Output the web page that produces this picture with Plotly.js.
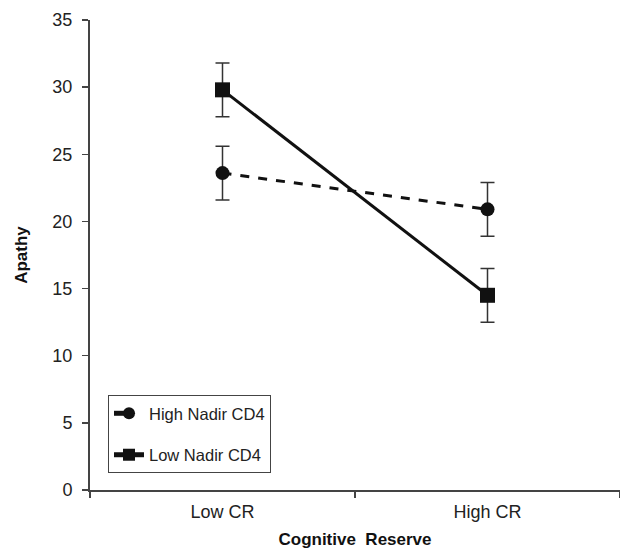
<!DOCTYPE html>
<html>
<head>
<meta charset="utf-8">
<script src="https://cdn.plot.ly/plotly-3.0.1.min.js"></script>
<style>html,body{margin:0;padding:0;background:#fff;}#chart{width:620px;height:553px;}</style>
</head>
<body>
<div id="chart"></div>
<script>
var categories = ["Low CR", "High CR"];
var highNadirValues = [23.6, 20.9];
var highNadirErrors = [2.0, 2.0];
var lowNadirValues = [29.8, 14.5];
var lowNadirErrors = [2.0, 2.0];
var yTickVals = [0, 5, 10, 15, 20, 25, 30, 35];

var traces = [
  {
    x: categories, y: highNadirValues, name: "High Nadir CD4",
    type: "scatter", mode: "lines+markers", legendgroup: "a",
    line: {color: "#111", width: 3, dash: "dash"},
    marker: {symbol: "circle", size: 14, color: "#111"},
    error_y: {type: "data", array: highNadirErrors, visible: true, color: "#333", thickness: 1.5, width: 7}
  },
  {
    x: categories, y: lowNadirValues, name: "Low Nadir CD4",
    type: "scatter", mode: "lines+markers", legendgroup: "b",
    line: {color: "#111", width: 3},
    marker: {symbol: "square", size: 15, color: "#111"},
    error_y: {type: "data", array: lowNadirErrors, visible: true, color: "#333", thickness: 1.5, width: 7}
  }
];

var layout = {
  width: 620, height: 553,
  margin: {l: 90, r: 0, t: 20, b: 63},
  paper_bgcolor: "#fff", plot_bgcolor: "#fff",
  font: {family: "Liberation Sans, Arial, sans-serif", color: "#222", size: 18},
  showlegend: true,
  legend: {
    x: 0.034, y: 0.202, xanchor: "left", yanchor: "top",
    bordercolor: "#444", borderwidth: 1, bgcolor: "#fff",
    font: {size: 16.5, color: "#222"},
    tracegroupgap: 17, itemwidth: 30, itemsizing: "constant"
  },
  xaxis: {
    type: "category", range: [-0.5, 1.5],
    showline: true, linecolor: "#444", linewidth: 2,
    ticks: "outside", tickson: "boundaries", ticklen: 6, tickcolor: "#444", tickwidth: 1.5,
    showgrid: false, zeroline: false, ticklabelstandoff: 4,
    tickfont: {size: 18, color: "#222"},
    title: {text: "Cognitive  Reserve", font: {size: 17, color: "#111", weight: "bold"}, standoff: 13}
  },
  yaxis: {
    range: [0, 35], tickvals: yTickVals,
    showline: true, linecolor: "#444", linewidth: 2,
    ticks: "outside", ticklen: 6, tickcolor: "#444", tickwidth: 1.5,
    showgrid: false, zeroline: false, ticklabelstandoff: 6,
    tickfont: {size: 18, color: "#222"},
    title: {text: "Apathy", font: {size: 17, color: "#111", weight: "bold"}, standoff: 20}
  }
};

Plotly.newPlot("chart", traces, layout, {displayModeBar: false, staticPlot: true});
</script>
</body>
</html>
